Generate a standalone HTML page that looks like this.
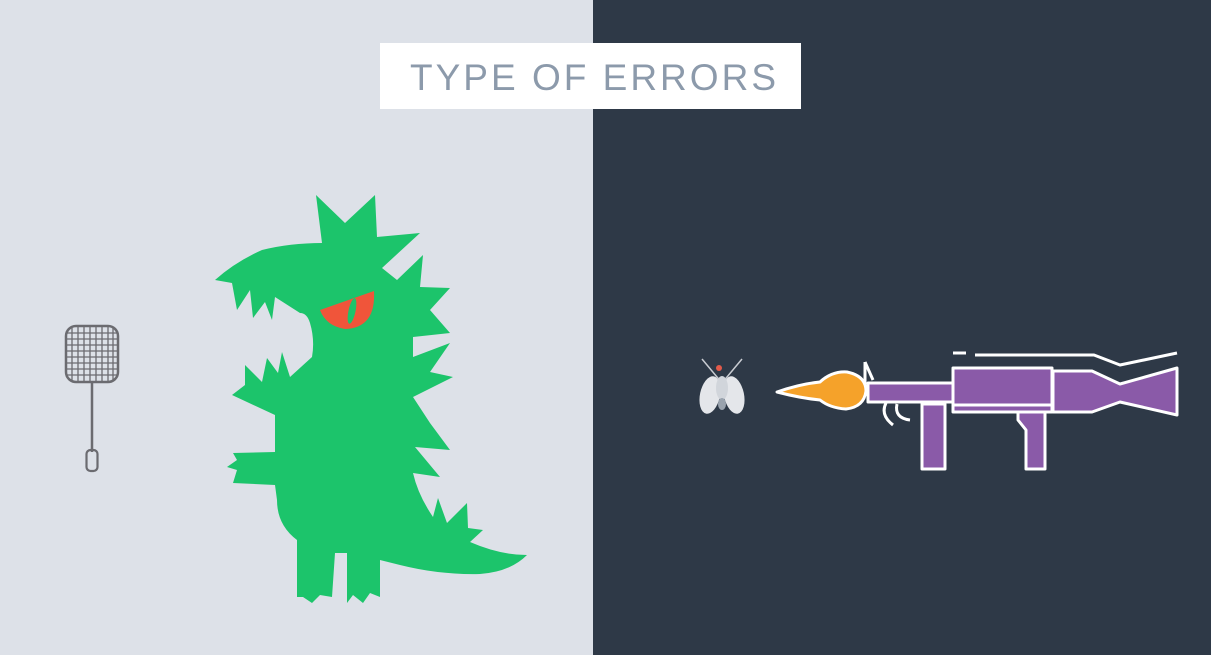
<!DOCTYPE html>
<html><head><meta charset="utf-8"><style>
html,body{margin:0;padding:0;width:1211px;height:655px;overflow:hidden;background:#dde1e8}
</style></head><body>
<svg width="1211" height="655" viewBox="0 0 1211 655" xmlns="http://www.w3.org/2000/svg">
<rect x="0" y="0" width="593" height="655" fill="#dde1e8"/>
<rect x="593" y="0" width="618" height="655" fill="#2e3947"/>
<rect x="380" y="43" width="421" height="66" fill="#ffffff"/>
<text x="410" y="90" font-family="Liberation Sans, sans-serif" font-size="37" fill="#8c9aab" textLength="366" lengthAdjust="spacing">TYPE OF ERRORS</text>

<!-- swatter -->
<rect x="66" y="326" width="52" height="56" rx="10" fill="none" stroke="#6b6b70" stroke-width="2.5"/>
<g stroke="#6b6b70" stroke-width="1.3">
<line x1="72" y1="327" x2="72" y2="381"/><line x1="78" y1="327" x2="78" y2="381"/><line x1="84" y1="327" x2="84" y2="381"/><line x1="90" y1="327" x2="90" y2="381"/><line x1="96" y1="327" x2="96" y2="381"/><line x1="102" y1="327" x2="102" y2="381"/><line x1="108" y1="327" x2="108" y2="381"/><line x1="113" y1="327" x2="113" y2="381"/>
<line x1="67" y1="333" x2="117" y2="333"/><line x1="67" y1="339" x2="117" y2="339"/><line x1="67" y1="345" x2="117" y2="345"/><line x1="67" y1="351" x2="117" y2="351"/><line x1="67" y1="357" x2="117" y2="357"/><line x1="67" y1="363" x2="117" y2="363"/><line x1="67" y1="369" x2="117" y2="369"/><line x1="67" y1="375" x2="117" y2="375"/>
</g>
<line x1="92" y1="382" x2="92" y2="452" stroke="#6b6b70" stroke-width="2.5"/>
<rect x="86.5" y="450" width="11" height="21" rx="4" fill="none" stroke="#6b6b70" stroke-width="2.2"/>

<!-- monster -->
<path fill="#1cc46b" d="M316,195 L345,223 L375,195 L377,237 L420,233 L382,268 L397,280 L423,255 L420,287 L450,288 L430,310 L450,333 L413,337 L413,357 L450,343 L430,372 L453,377 L413,397 L430,423 L450,450 L415,447 L440,477 L413,473 Q418,495 433,517 L438,498 L447,523 L467,503 L468,528 L483,530 L470,542 Q500,555 527,555 Q510,572 480,574 Q440,575 400,565 L380,560 L380,597 L370,593 L363,603 L353,595 L347,603 L347,553 L335,553 L332,597 L320,595 L312,603 L303,597 L297,597 L297,540 Q277,525 277,500 L275,485 L233,483 L237,470 L227,467 L237,460 L233,453 L275,452 L275,415 L232,395 L245,385 L245,365 L262,382 L267,358 L278,373 L282,352 L290,377 L312,357 Q315,340 310,323 Q307,313 300,313 L275,297 L272,320 L265,302 L253,318 L250,290 L237,310 L232,283 L215,280 Q235,262 262,250 Q290,243 322,243 Z"/>
<path fill="#f0553a" d="M320,310 L374,291 Q376,328 345,329 Q326,326 320,310 Z"/>
<ellipse cx="352" cy="311" rx="3.5" ry="13" fill="#1cc46b" transform="rotate(12 352 311)"/>

<!-- fly -->
<g stroke="#c9ccd2" stroke-width="1.5"><line x1="702" y1="359" x2="722" y2="383"/><line x1="742" y1="359" x2="722" y2="383"/></g>
<ellipse cx="710" cy="395" rx="10" ry="19" fill="#e4e6ea" transform="rotate(12 710 395)"/>
<ellipse cx="734" cy="395" rx="10" ry="19" fill="#e4e6ea" transform="rotate(-12 734 395)"/>
<ellipse cx="722" cy="388" rx="6" ry="12" fill="#d1d5db"/>
<ellipse cx="722" cy="404" rx="4" ry="6" fill="#9aa3ae"/>
<circle cx="719" cy="368" r="3" fill="#e35a4a"/>

<!-- bazooka -->
<g stroke="#ffffff" stroke-width="3" stroke-linejoin="round">
<path fill="#f5a22a" d="M777,392 Q800,384 820,382 Q832,371 847,372 Q866,376 866,391 Q864,407 846,409 Q830,408 820,400 Q800,398 777,392 Z"/>
<path fill="none" d="M865,362 L873,380"/>
<path fill="none" d="M865,362 L865,384"/>
<path fill="#8a5aa8" d="M868,383 L953,383 L953,402 L868,402 Z"/>
<path fill="none" d="M886,403 Q880,415 893,425"/>
<path fill="none" d="M897,404 Q894,418 910,420"/>
<path fill="#8a5aa8" d="M922,404 L945,404 L945,469 L922,469 Z"/>
<path fill="#8a5aa8" d="M953,368 L1052,368 L1052,412 L953,412 Z"/>
<line x1="953" y1="405" x2="1052" y2="405"/>
<path fill="#8a5aa8" d="M1018,412 L1045,412 L1045,469 L1026,469 L1026,430 L1018,420 Z"/>
<path fill="#8a5aa8" d="M1053,371 L1092,371 L1120,384 L1177,368 L1177,415 L1120,402 L1092,412 L1053,412 Z"/>
<path fill="none" d="M953,353 L966,353 M975,355 L1094,355 L1120,365 L1177,353"/>
</g>
</svg>
</body></html>
